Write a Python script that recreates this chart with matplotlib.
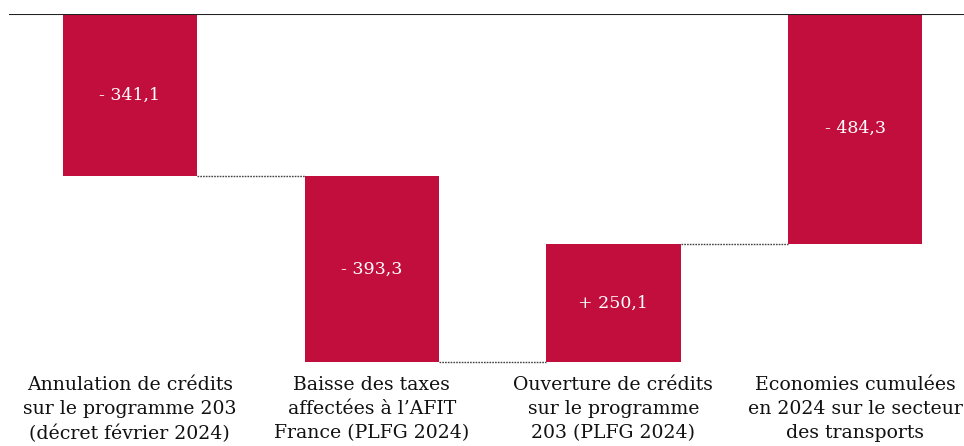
import numpy as np
import matplotlib.pyplot as plt

# waterfall: economies 2024 transports (M EUR)
categories = ["Annulation de crédits\nsur le programme 203\n(décret février 2024)",
              "Baisse des taxes\naffectées à l\u2019AFIT\nFrance (PLFG 2024)",
              "Ouverture de crédits\nsur le programme\n203 (PLFG 2024)",
              "Economies cumulées\nen 2024 sur le secteur\ndes transports"]
changes = [-341.1, -393.3, 250.1]
total = -484.3
value_labels = ["- 341,1", "- 393,3", "+ 250,1", "- 484,3"]

red = "#C20E3D"

# bases/heights for bar()
cum = np.cumsum([0] + changes)
bottoms = list(cum[:-1]) + [0]
heights = changes + [total]
x = np.arange(len(categories))
w = 0.555

fig = plt.figure(figsize=(9.64, 4.46), dpi=100)
ax = fig.add_axes([0.0093, 0.188, 0.9907, 0.7806])

ax.bar(x, heights, bottom=bottoms, width=w, color=red, edgecolor="none")

# dotted connectors between bars
levels = list(cum[1:])
for i in range(len(categories) - 1):
    ax.plot([x[i] + w / 2, x[i + 1] - w / 2], [levels[i], levels[i]],
            ls=(0, (1.2, 0.8)), color="#444444", lw=1.0, clip_on=False)

for i in range(len(categories)):
    ymid = bottoms[i] + heights[i] / 2
    ax.text(x[i], ymid, value_labels[i], ha="center", va="center",
            color="white", fontsize=12.5, family="DejaVu Serif")
    ax.text(x[i], -0.04, categories[i], transform=ax.get_xaxis_transform(),
            ha="center", va="top", fontsize=13.6, family="DejaVu Serif",
            color="#111111", linespacing=1.44)

ax.axhline(0, color="#222222", lw=1.5)
ax.set_xlim(-0.5, 3.45)
ax.set_ylim(-734.4, 0)
for s in ax.spines.values():
    s.set_visible(False)
ax.set_xticks([])
ax.set_yticks([])

fig.savefig("out.png", dpi=100)
